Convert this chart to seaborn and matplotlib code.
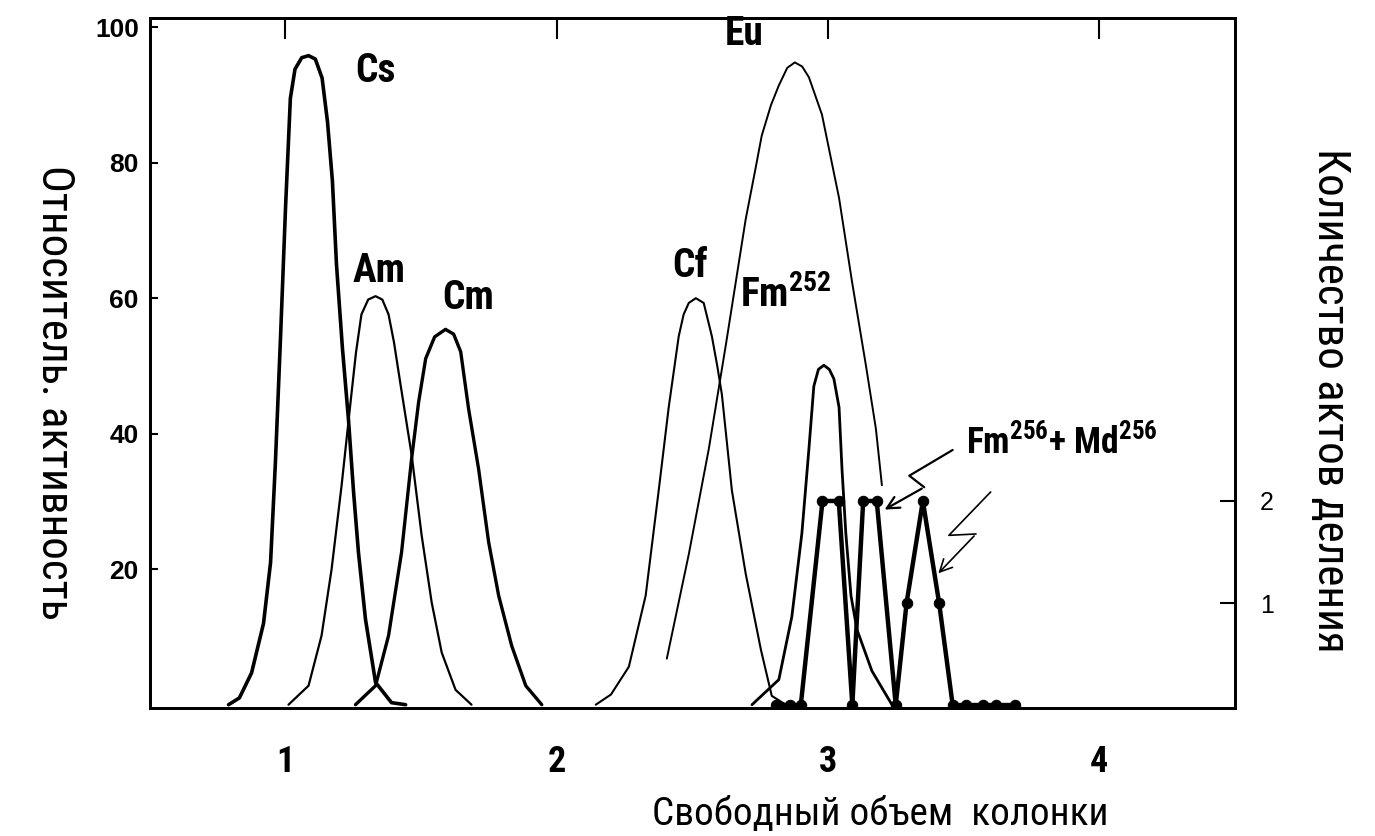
import numpy as np
import pandas as pd
import seaborn as sns
import matplotlib.pyplot as plt
from matplotlib import font_manager

# Кривые элюирования (относительная активность)
cs_x = [0.79, 0.83, 0.875, 0.919, 0.945, 0.963, 0.982, 1.0, 1.018, 1.035, 1.06, 1.085, 1.11, 1.135, 1.155, 1.173, 1.188, 1.21, 1.232, 1.251, 1.269, 1.295, 1.332, 1.391, 1.443]
cs_y = [0, 1.0, 4.7, 12, 21, 35.9, 54.5, 73.2, 89.5, 93.8, 95.5, 95.8, 95.3, 92.5, 86.0, 77.3, 65, 52.6, 42.2, 31.4, 22.5, 12.6, 3.3, 0.3, 0]

am_x = [1.011, 1.085, 1.133, 1.17, 1.207, 1.24, 1.26, 1.28, 1.305, 1.332, 1.357, 1.38, 1.40, 1.424, 1.465, 1.502, 1.539, 1.576, 1.627, 1.686]
am_y = [0, 2.8, 10.2, 20, 32.4, 44.7, 52, 57.6, 59.8, 60.3, 59.8, 57.6, 53.5, 47.3, 36.9, 25, 15.1, 7.7, 2.2, 0]

cm_x = [1.258, 1.332, 1.38, 1.428, 1.465, 1.491, 1.517, 1.55, 1.59, 1.62, 1.646, 1.675, 1.712, 1.749, 1.786, 1.834, 1.886, 1.945]
cm_y = [0, 2.8, 10.2, 22.5, 36.3, 44.7, 51.1, 54.3, 55.4, 54.7, 52.1, 43.7, 34.8, 24, 16.1, 8.7, 2.8, 0]

cf_x = [2.144, 2.2, 2.266, 2.328, 2.376, 2.413, 2.45, 2.468, 2.487, 2.513, 2.542, 2.572, 2.592, 2.609, 2.646, 2.697, 2.753, 2.793, 2.845]
cf_y = [0, 1.5, 5.6, 16.1, 31.6, 43.9, 54.4, 57.6, 59.3, 60, 59.3, 54.4, 50.0, 45.8, 31.6, 19.3, 8.1, 1.3, 0]

eu_x = [2.406, 2.487, 2.561, 2.624, 2.697, 2.73, 2.756, 2.79, 2.819, 2.85, 2.878, 2.905, 2.93, 2.978, 3.041, 3.089, 3.14, 3.177, 3.199]
eu_y = [6.8, 22.2, 37.8, 53.2, 71.7, 78.5, 84, 88.5, 91.4, 94, 94.8, 94.2, 92.6, 87.1, 74.8, 62.4, 50.1, 40.7, 32.4]

fm252_x = [2.72, 2.819, 2.867, 2.904, 2.93, 2.948, 2.965, 2.985, 3.005, 3.022, 3.041, 3.052, 3.066, 3.085, 3.107, 3.162, 3.236]
fm252_y = [0, 3.7, 13, 25.3, 37.8, 47, 49.5, 50.1, 49.5, 48.1, 43.9, 34.7, 25.3, 16.1, 11.1, 5, 0]

# Количество актов деления (правая ось)
fm256_x = [2.81, 2.86, 2.90, 2.98, 3.04, 3.09, 3.13, 3.18, 3.25, 3.29, 3.35, 3.41, 3.46, 3.51, 3.57, 3.62, 3.69]
fm256_y = [0, 0, 0, 2, 2, 0, 2, 2, 0, 1, 2, 1, 0, 0, 0, 0, 0]

x_ticks = [1, 2, 3, 4]
y_ticks = [20, 40, 60, 80, 100]
r_ticks = [1, 2]

#Узкий шрифт, если он есть
fonts = font_manager.fontManager.ttflist
def has(name, stretch=None):
    return any(f.name == name and (stretch is None or f.stretch == stretch) for f in fonts)

if has("Liberation Sans Narrow"):
    fam, st = "Liberation Sans Narrow", "normal"
elif has("Noto Sans", "condensed"):
    fam, st = "Noto Sans", "condensed"
elif has("Roboto Condensed"):
    fam, st = "Roboto Condensed", "normal"
elif has("DejaVu Sans", "condensed"):
    fam, st = "DejaVu Sans", "condensed"
else:
    fam, st = "DejaVu Sans", "normal"

sns.set_theme(style="white")
plt.rcParams["font.family"] = [fam, "DejaVu Sans"]
plt.rcParams["font.stretch"] = st
for k in ["text.color", "axes.labelcolor", "xtick.color", "ytick.color", "axes.edgecolor"]:
    plt.rcParams[k] = "black"

fig = plt.figure(figsize=(13.75, 8.36), dpi=100)
ax = fig.add_axes([0.109, 0.153, 0.789, 0.825])

curves = [(cs_x, cs_y, 2.6), (am_x, am_y, 1.6), (cm_x, cm_y, 2.4),
          (cf_x, cf_y, 1.5), (eu_x, eu_y, 1.4), (fm252_x, fm252_y, 2.0)]
for xs, ys, lw in curves:
    sns.lineplot(x=xs, y=ys, ax=ax, color="black", lw=lw, sort=False)

ax.set_xlim(0.5, 4.5)
ax.set_ylim(-0.5, 101.3)
ax.set_xticks(x_ticks)
ax.set_yticks(y_ticks)
ax.set_xticklabels([str(t) for t in x_ticks], fontsize=26, fontweight="bold")
ax.set_yticklabels([str(t) for t in y_ticks], fontsize=19, fontweight="bold",
                   family=["Liberation Sans", "DejaVu Sans"], fontstretch="normal")
ax.tick_params(axis="x", direction="out", length=16, width=1.5, pad=10)
ax.tick_params(axis="y", direction="in", length=6, width=1.5, pad=8)
top = ax.secondary_xaxis("top")
top.set_xticks(x_ticks)
top.set_xticklabels([])
top.tick_params(direction="in", length=15, width=1.5)
for sp in ax.spines.values():
    sp.set_linewidth(2.0)
top.spines["top"].set_linewidth(2.0)

ax2 = ax.twinx()
sns.lineplot(x=fm256_x, y=fm256_y, ax=ax2, color="black", lw=3.2, marker="o",
             markersize=7.5, markeredgecolor="black", sort=False)
ax2.set_ylim(-0.03, 6.73)
ax2.set_yticks(r_ticks)
ax2.set_yticklabels([str(t) for t in r_ticks], fontsize=18,
                    family=["Liberation Sans", "DejaVu Sans"], fontstretch="normal")
ax2.tick_params(axis="y", direction="in", length=11, width=1.5, pad=18)
for sp in ax2.spines.values():
    sp.set_linewidth(2.0)

# подписи пиков
lab = dict(fontsize=26, fontweight="bold", ha="center", va="center")
peaks = [ax.text(1.33, 93.5, "Cs", **lab),
         ax.text(1.345, 64.0, "Am", **lab),
         ax.text(1.675, 60.0, "Cm", **lab),
         ax.text(2.49, 64.7, "Cf", **lab),
         ax.text(2.69, 99.0, "Eu", **lab)]
fm252 = ax.text(2.845, 60.5, r"Fm$^{\mathregular{252}}$", **lab)
fm256 = ax.text(3.51, 38.8, r"Fm$^{\mathregular{256}}$+ Md$^{\mathregular{256}}$",
                fontsize=26, fontweight="bold", ha="left", va="center")

# зигзагообразные стрелки
ax.plot([3.46, 3.30, 3.355], [37.6, 33.8, 32.1], color="black", lw=1.6)
ax.annotate("", xy=(3.20, 28.6), xytext=(3.355, 32.1),
            arrowprops=dict(arrowstyle="->", color="black", lw=1.6, mutation_scale=22))
ax.plot([3.60, 3.446, 3.546], [31.4, 25.0, 25.2], color="black", lw=1.2)
ax.annotate("", xy=(3.40, 19.1), xytext=(3.546, 25.2),
            arrowprops=dict(arrowstyle="->", color="black", lw=1.2, mutation_scale=22))

ax.set_xlabel("Свободный объем  колонки", fontsize=30, va="center", ha="center")
ax.xaxis.set_label_coords(0.673, -0.155)
ax.set_ylabel("Относитель. активность", fontsize=29, rotation=270, va="center", ha="center")
ax.yaxis.set_label_coords(-0.088, 0.458)
ax2.set_ylabel("Количество актов деления", fontsize=29, rotation=270, va="center", ha="center")
ax2.yaxis.set_label_coords(1.088, 0.446)

# подгонка размеров текста под рисунок
def fit(t, target, vertical=False):
    fig.canvas.draw()
    bb = t.get_window_extent(fig.canvas.get_renderer())
    cur = bb.height if vertical else bb.width
    t.set_fontsize(t.get_fontsize() * target / cur)

fit(ax.xaxis.label, 455)
fit(ax.yaxis.label, 455, vertical=True)
fit(ax2.yaxis.label, 505, vertical=True)
fit(peaks[2], 52)
for t in peaks + [fm252]:
    t.set_fontsize(peaks[2].get_fontsize())
fit(fm256, 192)

fig.savefig("out.png", dpi=100, facecolor="white")
